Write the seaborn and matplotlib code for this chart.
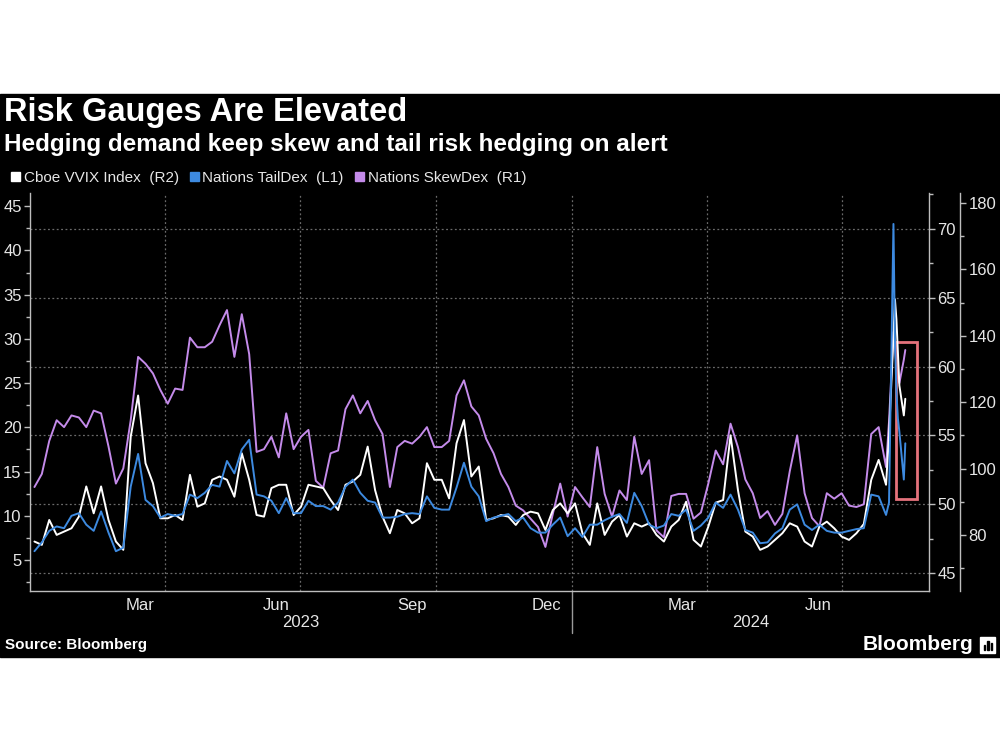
import pandas as pd
import matplotlib
matplotlib.use("Agg")
import matplotlib.pyplot as plt
import matplotlib.dates as mdates
from matplotlib.patches import Rectangle, Patch
from matplotlib.ticker import MultipleLocator
import seaborn as sns

# sample dates: every 5 days to end of July 2024, then daily around the August spike
dates = list(pd.date_range("2023-01-03", periods=116, freq="5D")) + list(pd.to_datetime([
    "2024-08-02", "2024-08-05", "2024-08-06", "2024-08-07",
    "2024-08-08", "2024-08-09", "2024-08-12", "2024-08-13"]))

# Nations TailDex (L1)
taildex = [
    6.0, 7.0, 8.3, 8.8, 8.6, 10.0, 10.3, 9.0, 8.3, 10.5, 8.1, 6.0,
    6.4, 13.3, 17.0, 11.8, 11.1, 9.8, 10.2, 10.0, 10.2, 12.4, 12.0, 12.6,
    13.5, 13.3, 16.2, 14.8, 17.5, 18.6, 12.4, 12.2, 11.7, 10.3, 12.0, 10.3,
    10.3, 11.7, 11.1, 11.1, 10.7, 11.5, 13.3, 14.1, 12.6, 11.7, 11.5, 9.8,
    9.8, 9.9, 10.2, 10.3, 10.2, 12.2, 10.9, 10.7, 10.7, 13.2, 16.0, 13.3,
    12.2, 9.4, 9.8, 10.0, 10.2, 9.4, 9.8, 8.6, 8.1, 8.1, 9.0, 9.8,
    7.7, 8.6, 7.6, 9.0, 9.0, 9.5, 9.9, 10.2, 9.2, 12.6, 11.1, 9.0,
    8.6, 8.9, 10.2, 10.0, 10.7, 8.3, 8.9, 9.8, 11.5, 10.9, 12.4, 10.7,
    8.4, 8.1, 6.9, 7.0, 8.0, 8.6, 10.7, 11.3, 9.0, 8.4, 9.0, 8.3,
    8.1, 8.1, 8.3, 8.5, 8.6, 12.4, 12.2, 10.1,
    11.5, 43.0, 30.0, 24.0, 21.0, 19.5, 14.1, 18.2,
]

# Cboe VVIX Index (R2)
vvix = [
    78.0, 77.0, 84.5, 80.0, 81.0, 82.0, 85.5, 94.6, 86.5, 94.6, 84.5, 78.0,
    75.5, 109.6, 122.0, 101.6, 95.6, 85.0, 85.0, 86.0, 84.5, 98.1, 88.5, 89.5,
    96.6, 97.6, 96.6, 91.5, 104.6, 96.6, 86.0, 85.5, 94.1, 95.1, 95.1, 86.0,
    88.5, 95.1, 94.6, 94.1, 90.5, 87.5, 95.1, 96.1, 98.1, 106.6, 93.5, 85.5,
    80.5, 87.5, 86.5, 83.5, 85.0, 101.6, 96.6, 96.6, 91.0, 107.6, 114.6, 97.6,
    100.6, 84.5, 85.0, 86.0, 85.5, 83.0, 86.0, 87.0, 86.5, 81.5, 87.5, 89.5,
    86.5, 89.5, 80.5, 77.0, 89.5, 80.0, 84.0, 86.0, 79.5, 83.5, 82.5, 83.5,
    80.0, 78.0, 82.5, 84.5, 90.0, 78.5, 76.5, 82.5, 89.7, 90.5, 110.0, 93.5,
    81.0, 79.5, 75.5, 76.5, 78.5, 80.5, 83.5, 82.5, 78.0, 76.5, 82.5, 84.0,
    82.0, 79.5, 78.5, 80.5, 83.3, 96.6, 102.6, 95.1,
    110.0, 140.0, 151.0, 145.0, 135.0, 125.0, 116.0, 121.0,
]

# Nations SkewDex (R1)
skewdex = [
    51.25, 52.2, 54.6, 56.1, 55.6, 56.45, 56.3, 55.6, 56.8, 56.6, 54.2, 51.5,
    52.6, 56.1, 60.7, 60.2, 59.5, 58.3, 57.3, 58.4, 58.3, 62.1, 61.4, 61.4,
    61.8, 63.0, 64.1, 60.7, 63.8, 60.9, 53.8, 54.0, 54.9, 53.4, 56.6, 54.0,
    54.9, 55.4, 51.7, 51.2, 53.7, 53.9, 56.9, 57.9, 56.6, 57.5, 56.1, 55.1,
    51.25, 54.15, 54.6, 54.4, 54.9, 55.6, 54.15, 54.15, 54.6, 57.9, 59.0, 57.1,
    56.45, 54.75, 53.7, 52.2, 51.25, 49.9, 49.55, 48.95, 48.35, 46.9, 49.3, 51.5,
    49.1, 51.25, 50.5, 49.8, 54.15, 50.75, 49.1, 51.0, 50.3, 54.9, 52.2, 53.2,
    48.1, 47.6, 50.6, 50.75, 50.75, 48.95, 49.4, 51.5, 53.9, 52.9, 55.85, 54.15,
    51.8, 50.8, 49.0, 49.5, 48.5, 49.3, 52.4, 55.0, 50.8, 49.0, 48.4, 50.8,
    50.4, 50.8, 49.9, 49.8, 50.0, 55.1, 55.6, 52.7,
    56.0, 62.5, 61.5, 60.0, 59.2, 58.8, 60.5, 61.2,
]

series_labels = ["Cboe VVIX Index  (R2)", "Nations TailDex  (L1)", "Nations SkewDex  (R1)"]
month_ticks_labelled = (3, 6, 9, 12)

# highlighted window on the SkewDex axis
highlight_start, highlight_end = pd.Timestamp("2024-08-07"), pd.Timestamp("2024-08-21")
highlight_low, highlight_high = 50.4, 61.8

WHITE = "#ffffff"
BLUE = "#3d8ae0"
PURPLE = "#c48bea"
RED = "#e4727c"
TXT = "#e6e6e6"
GRID = "#6a6a6a"

sns.set_style("dark")
plt.rcParams["font.family"] = ["Liberation Sans", "DejaVu Sans"]

fig = plt.figure(figsize=(10, 7.5), dpi=100, facecolor="white")
fig.patches.append(Rectangle((0, 1 - 657 / 750), 1, (657 - 94) / 750,
                             transform=fig.transFigure, color="black", zorder=-10))

# host axis carries the SkewDex (inner right) and the grid
ax = fig.add_axes([0.030, 1 - 591 / 750, 0.899, 398 / 750])
ax.set_facecolor("black")
ax_vvix = ax.twinx()
ax_tail = ax.twinx()

sns.lineplot(x=dates, y=skewdex, ax=ax, color=PURPLE, linewidth=1.4)
sns.lineplot(x=dates, y=vvix, ax=ax_vvix, color=WHITE, linewidth=1.4)
sns.lineplot(x=dates, y=taildex, ax=ax_tail, color=BLUE, linewidth=1.4)

x0, x1 = pd.Timestamp("2022-12-31"), pd.Timestamp("2024-08-29")
ax.set_xlim(x0, x1)
ax.set_ylim(43.7, 72.6)
ax_vvix.set_ylim(63.1, 183.0)
ax_tail.set_ylim(1.5, 46.5)

for a in (ax, ax_vvix, ax_tail):
    a.set_ylabel("")
    a.set_xlabel("")
    for s in a.spines.values():
        s.set_visible(False)
    a.grid(False)

# inner right axis (SkewDex)
ax.yaxis.tick_right()
ax.spines["right"].set_visible(True)
ax.spines["bottom"].set_visible(True)
ax.set_yticks(range(45, 71, 5))
ax.yaxis.set_minor_locator(MultipleLocator(2.5))

# outer right axis (VVIX)
ax_vvix.spines["right"].set_visible(True)
ax_vvix.spines["right"].set_position(("axes", (960 - 30) / 899))
ax_vvix.set_yticks(range(80, 181, 20))
ax_vvix.yaxis.set_minor_locator(MultipleLocator(10))

# left axis (TailDex)
ax_tail.yaxis.tick_left()
ax_tail.spines["left"].set_visible(True)
ax_tail.set_yticks(range(5, 46, 5))
ax_tail.yaxis.set_minor_locator(MultipleLocator(2.5))

for a in (ax, ax_vvix, ax_tail):
    for s in a.spines.values():
        s.set_color("#bdbdbd")
        s.set_linewidth(1.0)
    a.tick_params(axis="y", which="major", direction="out", length=4, width=1,
                  colors="#bdbdbd", labelcolor=TXT, labelsize=12, pad=2)
    a.tick_params(axis="y", which="minor", direction="out", length=3, width=1,
                  colors="#bdbdbd")

# x axis: month-start ticks, quarter-month labels
ax.xaxis.set_major_locator(mdates.MonthLocator(bymonth=month_ticks_labelled, bymonthday=15))
ax.xaxis.set_major_formatter(mdates.DateFormatter("%b"))
ax.xaxis.set_minor_locator(mdates.MonthLocator())
ax.tick_params(axis="x", which="major", length=0, labelcolor=TXT, labelsize=12, pad=5)
ax.tick_params(axis="x", which="minor", direction="out", length=3, width=1, colors="#bdbdbd")
for a in (ax_vvix, ax_tail):
    a.tick_params(axis="x", which="both", bottom=False, labelbottom=False)

# grid: horizontal on SkewDex ticks, vertical at quarter starts
ax.grid(axis="y", which="major", color=GRID, linestyle=(0, (1.5, 2)), linewidth=0.9)
for q in pd.date_range("2023-04-01", "2024-07-01", freq="QS"):
    ax.axvline(q, color=GRID, linestyle=(0, (1.5, 2)), linewidth=0.9, zorder=0)

# year labels and separator
year_break = pd.Timestamp("2024-01-01")
ax.plot([year_break, year_break], [0, -0.105], transform=ax.get_xaxis_transform(),
        color="#9a9a9a", linewidth=1, clip_on=False)
for lo, hi, lab in ((x0, year_break, "2023"), (year_break, x1, "2024")):
    mid = mdates.num2date((mdates.date2num(lo) + mdates.date2num(hi)) / 2)
    ax.text(mid, -0.080, lab, transform=ax.get_xaxis_transform(), ha="center",
            va="center", color=TXT, fontsize=12)

# highlight box
ax.add_patch(Rectangle((mdates.date2num(highlight_start), highlight_low),
                       mdates.date2num(highlight_end) - mdates.date2num(highlight_start),
                       highlight_high - highlight_low, fill=False, edgecolor=RED,
                       linewidth=2, zorder=5))

# titles
fig.text(0.004, 1 - 113 / 750, "Risk Gauges Are Elevated", color="white",
         fontsize=23.5, fontweight="bold", va="center")
fig.text(0.004, 1 - 145 / 750, "Hedging demand keep skew and tail risk hedging on alert",
         color="white", fontsize=17.5, fontweight="bold", va="center")

# legend
handles = [Patch(facecolor=c, edgecolor=c) for c in (WHITE, BLUE, PURPLE)]
fig.legend(handles, series_labels, loc="center left", bbox_to_anchor=(0.0, 1 - 178 / 750),
           ncol=3, frameon=False, fontsize=11, labelcolor=TXT, handlelength=0.6,
           handleheight=0.6, handletextpad=0.25, columnspacing=0.7, borderaxespad=0.3)

# footer
fig.text(0.005, 1 - 645 / 750, "Source: Bloomberg", color="white", fontsize=11,
         fontweight="bold", va="center")
fig.text(0.973, 1 - 645 / 750, "Bloomberg", color="white", fontsize=15,
         fontweight="bold", va="center", ha="right")
fig.patches.append(Rectangle((0.980, 1 - 653 / 750), 0.015, 16 / 750,
                             transform=fig.transFigure, color="white"))
for i, h in enumerate((5, 9, 7)):
    fig.patches.append(Rectangle((0.9835 + i * 0.0035, 1 - 650 / 750), 0.0018, h / 750,
                                 transform=fig.transFigure, color="black"))

plt.savefig("out.png", dpi=100, facecolor="white")
